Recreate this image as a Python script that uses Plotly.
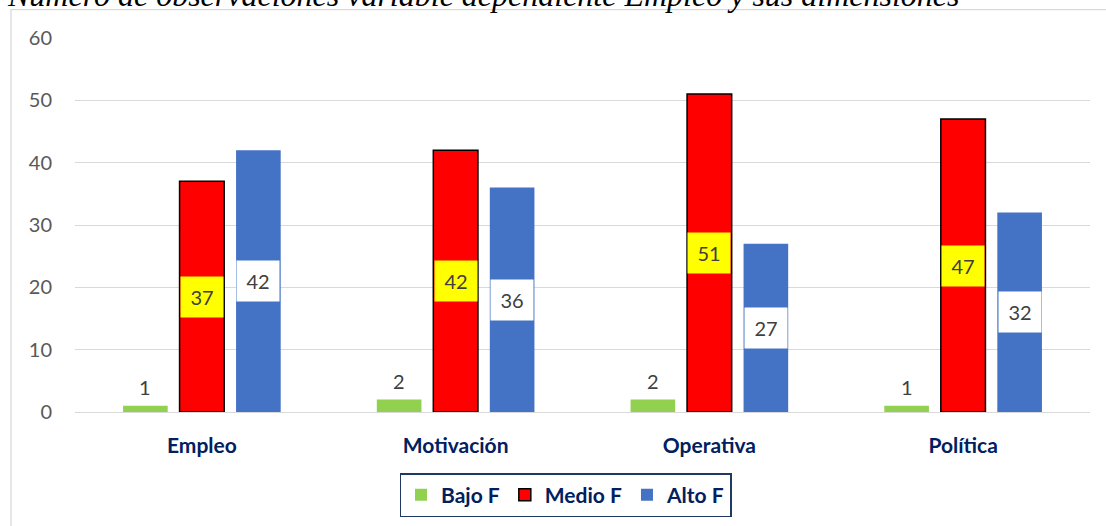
import plotly.graph_objects as go

categories = ["Empleo", "Motivación", "Operativa", "Política"]
bajo = [1, 2, 2, 1]
medio = [37, 42, 51, 47]
alto = [42, 36, 27, 32]
series_names = ["Bajo F", "Medio F", "Alto F"]
y_ticks = [0, 10, 20, 30, 40, 50, 60]
title_text = "Número de observaciones variable dependiente Empleo y sus dimensiones"

GREEN = "#92D050"
RED = "#FF0000"
BLUE = "#4472C4"
NAVY = "#002060"
GRAY = "#595959"
LABEL = "#404040"
FONT = "Lato"

W, H = 1106, 526
ML, MR, MT, MB = 75, 16, 38, 114
BARGAP = 0.332
BARGROUPGAP = 0.21

fig = go.Figure()
fig.add_trace(go.Bar(name=series_names[0], x=categories, y=bajo,
                     marker=dict(color=GREEN, line=dict(width=0))))
fig.add_trace(go.Bar(name=series_names[1], x=categories, y=medio,
                     marker=dict(color=RED, line=dict(color="black", width=1.5))))
fig.add_trace(go.Bar(name=series_names[2], x=categories, y=alto,
                     marker=dict(color=BLUE, line=dict(width=0))))

slot = (1 - BARGAP) / 3
annotations = []
for i, cat in enumerate(categories):
    annotations.append(dict(x=i - slot, y=bajo[i], xref="x", yref="y", text=str(bajo[i]),
                            showarrow=False, yanchor="bottom", yshift=5,
                            font=dict(family=FONT, size=20, color=LABEL)))
    annotations.append(dict(x=i, y=medio[i] / 2, xref="x", yref="y", text=str(medio[i]),
                            showarrow=False, bgcolor="#FFFF00", width=40, height=38,
                            font=dict(family=FONT, size=20, color=LABEL)))
    annotations.append(dict(x=i + slot, y=alto[i] / 2, xref="x", yref="y", text=str(alto[i]),
                            showarrow=False, bgcolor="white", width=40, height=38,
                            font=dict(family=FONT, size=20, color=LABEL)))

pw = W - ML - MR
ph = H - MT - MB
annotations.append(dict(x=(5 - ML) / pw, y=(H - MB - 6) / ph, xref="paper", yref="paper",
                        text=title_text, showarrow=False, xanchor="left", yanchor="bottom",
                        yshift=-9,
                        font=dict(family="Liberation Serif", size=32, color="black", style="italic")))

shapes = [dict(type="rect", xref="paper", yref="paper",
               x0=(11 - ML) / pw, x1=1.2, y0=-1, y1=(H - MB - 9.7) / ph,
               line=dict(color="#D9D9D9", width=1.3), fillcolor="rgba(0,0,0,0)", layer="below")]

fig.update_layout(
    width=W, height=H,
    margin=dict(l=ML, r=MR, t=MT, b=MB, autoexpand=False),
    paper_bgcolor="white", plot_bgcolor="white",
    barmode="group", bargap=BARGAP, bargroupgap=BARGROUPGAP,
    annotations=annotations, shapes=shapes,
    showlegend=True,
    legend=dict(orientation="h", x=(565.5 - ML) / pw, xanchor="center",
                y=(H - MB - 473) / ph, yanchor="top",
                bordercolor="#1F3864", borderwidth=1.5, itemwidth=30,
                font=dict(family=FONT, size=21, color=NAVY, weight="bold")),
    xaxis=dict(type="category", showgrid=False, showline=False, zeroline=False, ticks="",
               tickfont=dict(family=FONT, size=21, color=NAVY, weight="bold"),
               ticklabelstandoff=19),
    yaxis=dict(range=[0, 60], tickvals=y_ticks, showgrid=True, gridcolor="#D9D9D9", gridwidth=1,
               zeroline=True, zerolinecolor="#D9D9D9", zerolinewidth=1.3, showline=False, ticks="",
               tickfont=dict(family=FONT, size=20, color=GRAY), ticklabelstandoff=22),
)

fig.write_html("out.html", config={"displayModeBar": False},
               post_script="document.body.style.margin='0px';")
